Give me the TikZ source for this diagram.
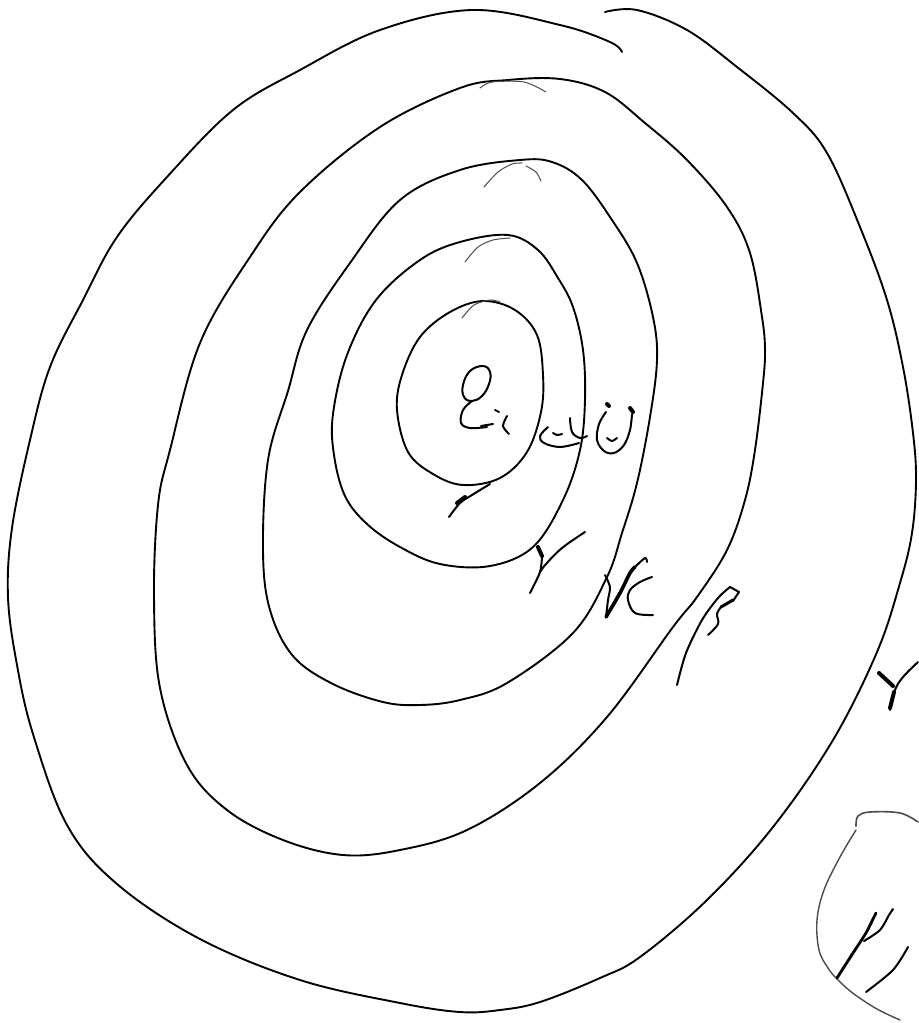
\documentclass[tikz,border=0pt]{standalone}
\usetikzlibrary{calc}
\tikzset{
  ring/.style={draw=black, line width=0.95pt, line cap=round, line join=round},
  faint/.style={draw=black!70, line width=0.5pt, line cap=round},
  pen/.style={draw=black, line width=1pt, line cap=round, line join=round},
  thickpen/.style={draw=black, line width=2pt, line cap=round, line join=round},
}
\begin{document}
\begin{tikzpicture}[x=0.5pt, y=-0.5pt]
\useasboundingbox (0,0) rectangle (919,1023);
\fill[white] (0,0) rectangle (919,1023);

% ring 1 (innermost)
\draw[ring] plot[smooth cycle, tension=0.6] coordinates {
 (483,301) (450,312) (420,337) (402,375) (397,410) (408,452) (433,474)
 (463,485) (500,478) (527,452) (541,412) (543,375) (537,335) (515,310)};
\draw[faint] plot[smooth] coordinates {(462,318) (474,305) (490,300) (500,302)};

% ring 2
\draw[ring] plot[smooth cycle, tension=0.6] coordinates {
 (508,235) (460,242) (420,260) (376,300) (347,355) (333,414) (334,455)
 (345,496) (367,524) (400,547) (440,564) (490,566) (533,547) (563,500)
 (580,450) (585,400) (583,350) (573,307) (558,278) (538,250)};
\draw[faint] plot[smooth] coordinates {(465,262) (478,247) (493,240) (510,238)};

% ring 3
\draw[ring] plot[smooth cycle, tension=0.6] coordinates {
 (520,160) (460,170) (400,200) (350,263) (307,330) (288,391) (268,460)
 (263,551) (270,610) (293,656) (333,684) (383,702) (420,705) (460,700)
 (507,683) (573,633) (607,577) (622,533) (637,483) (650,417) (657,360)
 (653,317) (637,263) (612,220) (582,180) (552,162)};
\draw[faint] plot[smooth] coordinates {(484,187) (498,172) (512,164) (522,163)};
\draw[faint] plot[smooth] coordinates {(526,166) (536,172) (541,181)};

% ring 4
\draw[ring] plot[smooth cycle, tension=0.6] coordinates {
 (560,79) (508,80) (460,88) (380,127) (300,192) (250,257) (200,343)
 (170,450) (158,505) (154,597) (160,688) (187,765) (227,810) (283,840)
 (343,855) (400,850) (467,830) (540,783) (607,717) (673,627) (697,597)
 (727,550) (745,500) (755,450) (763,383) (765,350) (762,317) (750,253)
 (727,207) (687,160) (645,123) (605,92)};
\draw[faint] plot[smooth] coordinates {(480,88) (492,82) (524,82) (546,92)};

% ring 5 (outermost), drawn as one stroke that overlaps itself at the top
\draw[ring] plot[smooth, tension=0.6] coordinates {
 (622,52) (610,42) (560,25) (472,10) (380,30) (300,70) (233,110)
 (167,177) (117,237) (83,300) (50,367) (30,440) (12,528) (8,597)
 (17,665) (33,734) (67,825) (117,884) (200,939) (300,980) (400,1003)
 (460,1012) (500,1010) (540,1002) (600,978) (640,957) (707,900)
 (773,827) (833,740) (877,652) (900,583) (912,533) (916,480)
 (913,433) (903,367) (887,300) (860,227) (827,153) (793,113)
 (737,67) (687,30) (637,10) (605,12)};

% ---- handwritten marks ----
% centre word
\draw[pen] plot[smooth cycle, tension=0.7] coordinates {
 (483,366) (470,371) (463,385) (464,397) (472,401) (482,396) (489,384) (490,372)};
\draw[pen] plot[smooth, tension=0.6] coordinates {(472,401) (463,410) (461,423) (470,428) (487,427)};
\draw[pen] (481,426) -- (493,424);
\draw[pen] (495,410) -- (499,412);
\draw[pen] plot[smooth] coordinates {(507,416) (503,426) (509,434)};
\draw[pen] plot[smooth, tension=0.6] coordinates {(548,427) (540,436) (544,443) (560,447) (579,443)};
\draw[pen] plot[smooth] coordinates {(553,433) (557,435) (562,434)};
\draw[pen] plot[smooth, tension=0.6] coordinates {(570,418) (572,432) (580,438) (587,436)};
\draw[pen] plot[smooth, tension=0.6] coordinates {
 (606,412) (599,424) (597,440) (604,451) (614,453) (624,445) (630,430) (632,414)};
\draw[thickpen] (630,408) -- (633,412);
\draw[thickpen] (607,404) -- (609,406);
\draw[pen] plot[smooth] coordinates {(607,438) (612,441) (617,438)};

% mark under ring 1
\draw[pen] plot[smooth] coordinates {(449,517) (460,503) (472,495) (490,484)};
\draw[thickpen] (457,503) -- (465,497);

% "Y"-shaped mark
\draw[pen] plot[smooth, tension=0.6] coordinates {(585,532) (562,548) (546,564) (540,572)};
\draw[thickpen] plot[smooth] coordinates {(538,547) (542,556)};
\draw[pen] plot[smooth] coordinates {(542,556) (540,572) (530,593)};

% "K"-shaped mark
\draw[pen] plot[smooth] coordinates {(605,575) (610,587) (608,600) (606,617)};
\draw[thickpen, line width=1.8pt] plot[smooth, tension=0.5] coordinates {(606,617) (620,593) (630,573) (635,567)};
\draw[pen] plot[smooth] coordinates {(635,567) (645,558) (647,562)};
\draw[pen] plot[smooth, tension=0.6] coordinates {(652,577) (640,582) (630,590) (628,600) (635,613) (653,615)};

% "beta"-shaped mark
\draw[pen] plot[smooth, tension=0.5] coordinates {
 (677,685) (686,653) (702,620) (718,598) (730,587)};
\draw[pen] (730,587) -- (739,592) -- (733,601);
\draw[thickpen, line width=1.5pt] (733,600) -- (721,607);
\draw[pen] plot[smooth, tension=0.6] coordinates {(721,607) (717,614) (718,624) (708,635)};

% mark to the right of the outer ring
\draw[pen] plot[smooth, tension=0.6] coordinates {(918,662) (903,677) (895,690) (890,710)};
\draw[thickpen] (879,673) -- (893,686);
\draw[thickpen] (894,692) -- (890,708);

% partial ellipse bottom right
\draw[faint, line width=0.7pt] plot[smooth, tension=0.6] coordinates {
 (856,830) (840,857) (824,890) (817,920) (819,950) (828,968) (838,980)
 (854,994) (877,1009) (900,1020)};
\draw[faint, line width=0.8pt] plot[smooth, tension=0.6] coordinates {
 (856,826) (858,816) (870,812) (900,813) (918,822)};
% mark inside it
\draw[thickpen, line width=1.4pt] plot[smooth] coordinates {(837,978) (853,953) (866,933) (873,919) (876,913)};
\draw[pen] plot[smooth] coordinates {(864,941) (880,930) (889,915) (893,909)};
\draw[pen] plot[smooth] coordinates {(908,947) (893,970) (866,992)};
\end{tikzpicture}
\end{document}
